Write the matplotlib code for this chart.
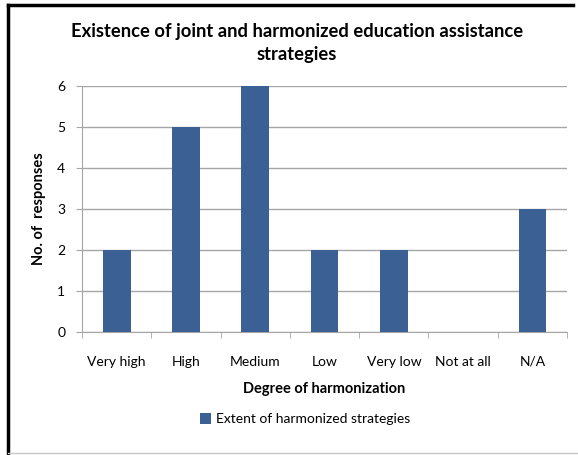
import matplotlib.pyplot as plt
from matplotlib.lines import Line2D
import numpy as np

categories = ["Very high", "High", "Medium", "Low", "Very low", "Not at all", "N/A"]
responses = [2, 5, 6, 2, 2, 0, 3]
series_name = "Extent of harmonized strategies"

plt.rcParams['font.family'] = ['Lato', 'DejaVu Sans']

fig = plt.figure(figsize=(5.78, 4.55), dpi=100)
ax = fig.add_axes([0.142, 0.270, 0.839, 0.541])

x = np.arange(len(categories))
ax.bar(x, responses, width=0.4, color='#3A6094', zorder=3, label=series_name)

ax.set_xlim(-0.5, len(categories) - 0.5)
ax.set_ylim(0, 6)
ax.set_yticks(range(0, 7))
ax.yaxis.grid(True, color='#A6A6A6', linewidth=1, zorder=0)

ax.set_xticks(x)
ax.set_xticklabels(categories, fontsize=10)
ax.set_xticks(np.arange(-0.5, len(categories)), minor=True)
ax.tick_params(axis='x', which='major', length=0, pad=17)
ax.tick_params(axis='x', which='minor', length=4, color='#A6A6A6')
ax.tick_params(axis='y', length=4, color='#A6A6A6', labelsize=10, pad=8)

for side in ['top', 'right']:
    ax.spines[side].set_visible(False)
for side in ['left', 'bottom']:
    ax.spines[side].set_color('#A6A6A6')

ax.set_xlabel("Degree of harmonization", fontsize=10.5, fontweight='bold', labelpad=10)
ax.set_ylabel("No. of  responses", fontsize=10.5, fontweight='bold', labelpad=8)

fig.text(0.514, 0.905, "Existence of joint and harmonized education assistance\nstrategies",
         ha='center', va='center', fontsize=13.2, fontweight='bold', linespacing=1.45)

fig.legend(loc='center', bbox_to_anchor=(0.528, 0.079), frameon=False, fontsize=10,
           handlelength=0.8, handleheight=0.8, handletextpad=0.4)

# chart border
fig.add_artist(Line2D([0.0147, 0.0147], [0.0, 0.988], color='black', linewidth=2.5))
fig.add_artist(Line2D([0.0147, 0.992], [0.988, 0.988], color='black', linewidth=2.5))
fig.add_artist(Line2D([0.0147, 1.0], [0.004, 0.004], color='#C8C8C8', linewidth=1))

fig.savefig("out.png", dpi=100)
